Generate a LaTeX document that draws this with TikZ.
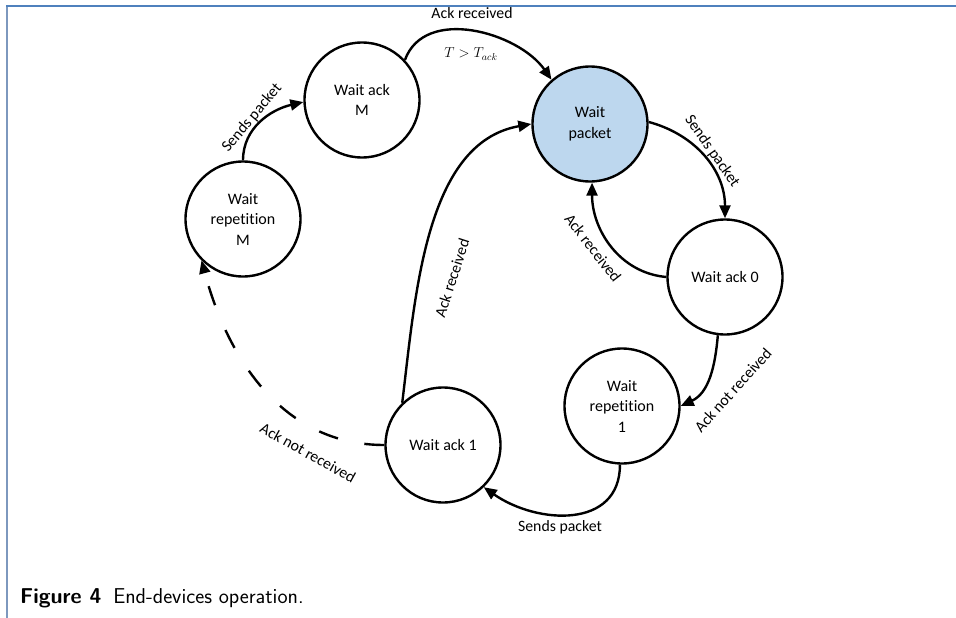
\documentclass[tikz,border=0pt]{standalone}
\usepackage{fontspec}
\setmainfont{Carlito}[Ligatures=NoCommon]
\usetikzlibrary{arrows.meta}
\definecolor{wpblue}{RGB}{189,215,238}
\definecolor{frametop}{RGB}{79,129,189}
\definecolor{frameleft}{RGB}{125,152,190}
\begin{document}
\begin{tikzpicture}[x=1pt,y=1pt,
  state/.style={circle,draw,line width=2.4pt,minimum size=115pt,inner sep=0pt,align=center,font=\fontsize{16}{20.5}\selectfont},
  edge/.style={line width=2.4pt,-{Triangle[length=13pt,width=11pt]}},
  dashpat/.style={dash pattern=on 20pt off 27pt},
  lbl/.style={font=\fontsize{15.8}{18}\selectfont,inner sep=0pt}]
\useasboundingbox (0,0) rectangle (956,-618);
\draw[frameleft,line width=1.2pt] (7,-618) -- (7,-6);
\draw[frametop,line width=1.2pt] (6.4,-6) -- (956,-6);

\node[state,fill=wpblue] (WP) at (590,-124) {Wait\\packet};
\node[state] (A0) at (725,-277) {Wait ack 0};
\node[state] (R1) at (622,-406) {Wait\\repetition\\1};
\node[state] (A1) at (443,-445) {Wait ack 1};
\node[state] (RM) at (243,-219) {Wait\\repetition\\M};
\node[state] (AM) at (362,-100) {Wait ack\\M};

\draw[edge] (AM.43) to[out=70,in=125] (WP.131);
\draw[edge] (WP.2) to[out=-15,in=90] (A0.90);
\draw[edge] (A0.180) to[out=175,in=-90] (WP.-88);
\draw[edge] (A0.-97) to[out=-95,in=25] (R1.0);
\draw[edge] (R1.-92) to[out=-90,in=-35,looseness=1.2] (A1.-46);
\draw[edge] (A1.134) to[out=83,in=190,looseness=0.9] (WP.180);
\draw[edge,dashpat] (A1.180) to[out=180,in=-75] (RM.-135);
\draw[edge] (RM.90) to[out=90,in=193] (AM.182);

\node[lbl] (l1) at (472,-13) {Ack received};
\node[font=\fontsize{14}{16}\selectfont,inner sep=0pt] (l2) at (471,-54) {$T > T_{ack}$};
\node[lbl,rotate=-55] (l3) at (712,-151) {Sends packet};
\node[lbl,rotate=-52] (l4) at (593,-248) {Ack received};
\node[lbl,rotate=48] (l5) at (733,-390) {Ack not received};
\node[lbl] (l6) at (560,-527) {Sends packet};
\node[lbl,rotate=72] (l7) at (452,-278) {Ack received};
\node[lbl,rotate=-29] (l8) at (308,-453) {Ack not received};
\node[lbl,rotate=50] (l9) at (252,-118) {Sends packet};

\node[anchor=base west,font=\sffamily\fontsize{21.5}{24}\selectfont,inner sep=0pt] (cap) at (20,-603) {\textbf{Figure 4}\hspace{0.55em}End-devices operation.};
\end{tikzpicture}
\end{document}
